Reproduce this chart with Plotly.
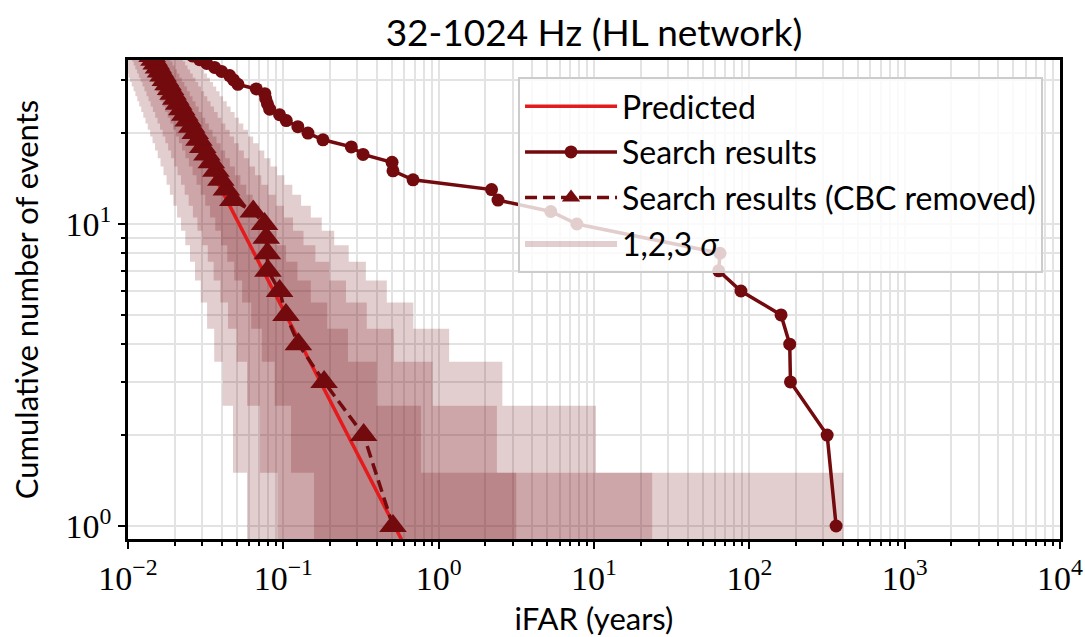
import plotly.graph_objects as go

# ---------------- data ----------------
# predicted cumulative count vs iFAR
pred_ifar = [0.578, 0.52, 0.26, 0.104, 0.052, 0.026, 0.0144]
pred_n = [0.9, 1, 2, 5, 10, 20, 36]

# search results
search_n = [1, 2, 3, 4, 5, 6, 7, 8, 10, 11, 12, 13, 14, 15, 16, 17, 18, 19, 20,
            21, 22, 23, 24, 25, 26, 27, 28, 29, 30, 31, 32, 33, 34, 35, 36]
search_ifar = [362, 317, 184, 182, 160, 88.3, 63.5, 64.7, 7.76, 5.27, 2.41, 2.19,
               0.684, 0.508, 0.501, 0.326, 0.274, 0.180, 0.144, 0.124, 0.1045,
               0.0946, 0.0817, 0.079, 0.077, 0.076, 0.067, 0.051, 0.0478, 0.0451,
               0.040, 0.0361, 0.0321, 0.0289, 0.026]

# search results with CBC events removed
cbc_n = list(range(1, 37))
cbc_ifar = [0.508, 0.329, 0.183, 0.125, 0.104, 0.0946, 0.0796, 0.0790, 0.0776,
            0.0757, 0.0640, 0.0473, 0.0430, 0.0396, 0.0368, 0.0344, 0.0322,
            0.0303, 0.0286, 0.0271, 0.0257, 0.0244, 0.0232, 0.0222, 0.0212,
            0.0203, 0.0195, 0.0188, 0.0181, 0.0174, 0.0168, 0.0162, 0.0157,
            0.0152, 0.0147, 0.0143]

# 1,2,3 sigma bands: for each count level, the iFAR extent
band_n = list(range(1, 36))
lo1 = [0.1576, 0.1121, 0.0880, 0.0727, 0.0621, 0.0543, 0.0483, 0.04355, 0.03968,
       0.03646, 0.03374, 0.03141, 0.02939, 0.02762, 0.02606, 0.02467, 0.02342,
       0.02230, 0.02128, 0.02036, 0.01951, 0.01873, 0.01802, 0.01735, 0.01674,
       0.01617, 0.01564, 0.01514, 0.01467, 0.01423, 0.01382, 0.01343, 0.01307,
       0.01272, 0.01239]
hi1 = [3.156, 0.7698, 0.3972, 0.2606, 0.1915, 0.1503, 0.1232, 0.1041, 0.08992,
       0.07903, 0.07042, 0.06345, 0.05770, 0.05288, 0.04877, 0.04524, 0.04218,
       0.03949, 0.03712, 0.03501, 0.03312, 0.03141, 0.02988, 0.02848, 0.02720,
       0.02603, 0.02496, 0.02396, 0.02305, 0.02219, 0.02140, 0.02066, 0.01997,
       0.01933, 0.01872]
lo2 = [0.0917, 0.0708, 0.0584, 0.0501, 0.0440, 0.0393, 0.0356, 0.03262, 0.03011,
       0.02799, 0.02616, 0.02457, 0.02318, 0.02194, 0.02084, 0.01984, 0.01895,
       0.01813, 0.01739, 0.01671, 0.01608, 0.01550, 0.01496, 0.01446, 0.01399,
       0.01356, 0.01315, 0.01276, 0.01240, 0.01206, 0.01174, 0.01144, 0.01115,
       0.01088, 0.01062]
hi2 = [23.69, 2.370, 0.9137, 0.5152, 0.3444, 0.2532, 0.1977, 0.1608, 0.1348,
       0.1155, 0.1008, 0.08918, 0.07983, 0.07216, 0.06575, 0.06033, 0.05569,
       0.05167, 0.04817, 0.04509, 0.04236, 0.03993, 0.03775, 0.03578, 0.03400,
       0.03238, 0.03090, 0.02955, 0.02830, 0.02715, 0.02609, 0.02510, 0.02418,
       0.02333, 0.02253]
lo3 = [0.0584, 0.0474, 0.0407, 0.0359, 0.0323, 0.0294, 0.0270, 0.02507, 0.02339,
       0.02195, 0.02069, 0.01958, 0.01860, 0.01772, 0.01692, 0.01620, 0.01554,
       0.01494, 0.01439, 0.01388, 0.01340, 0.01296, 0.01255, 0.01217, 0.01181,
       0.01148, 0.01116, 0.01086, 0.01058, 0.01031, 0.01006, 0.00982, 0.00959,
       0.00938, 0.00917]
hi3 = [403.4, 10.30, 2.571, 1.168, 0.6871, 0.4635, 0.3398, 0.2635, 0.2126,
       0.1767, 0.1503, 0.1301, 0.1143, 0.1016, 0.09121, 0.08263, 0.07539,
       0.06922, 0.06392, 0.05932, 0.05527, 0.05172, 0.04857, 0.04574, 0.04321,
       0.04093, 0.03886, 0.03697, 0.03525, 0.03367, 0.03222, 0.03088, 0.02964,
       0.02849, 0.02742]

x_tick_vals = [0.01, 0.1, 1, 10, 100, 1000, 10000]
x_tick_text = ["10<sup>\u22122</sup>", "10<sup>\u22121</sup>", "10<sup>0</sup>",
               "10<sup>1</sup>", "10<sup>2</sup>", "10<sup>3</sup>", "10<sup>4</sup>"]
y_tick_vals = [1, 10]
y_tick_text = ["10<sup>0</sup>", "10<sup>1</sup>"]
x_minor = [k * 10.0 ** e for e in range(-2, 4) for k in range(2, 10)]
y_minor = [2, 3, 4, 5, 6, 7, 8, 9, 20, 30]

# ---------------- style ----------------
DARK = "rgb(115,10,14)"
BAND = "rgba(115,10,14,0.2)"
RED = "#e41a1c"
TXT = "Lato, 'Liberation Sans', sans-serif"
NUM = "'Liberation Serif', serif"
GRID = "#e3e3e3"


def staircase(lo, hi, n):
    xs, ys = [], []
    for a, k in zip(lo, n):
        xs += [a, a]
        ys += [k - 0.5, k + 0.5]
    for b, k in zip(reversed(hi), reversed(n)):
        xs += [b, b]
        ys += [k + 0.5, k - 0.5]
    xs.append(xs[0])
    ys.append(ys[0])
    return xs, ys


fig = go.Figure()

for i, (lo, hi) in enumerate([(lo3, hi3), (lo2, hi2), (lo1, hi1)]):
    bx, by = staircase(lo, hi, band_n)
    fig.add_trace(go.Scatter(
        x=bx, y=by, mode="lines", fill="toself", fillcolor=BAND,
        line=dict(width=0, color=BAND), hoverinfo="skip",
        name="1,2,3 <i>\u03c3</i>", legendgroup="band", legendrank=4,
        showlegend=(i == 0)))

fig.add_trace(go.Scatter(
    x=pred_ifar, y=pred_n, mode="lines", name="Predicted",
    line=dict(color=RED, width=3.5), legendgroup="pred", legendrank=1))

fig.add_trace(go.Scatter(
    x=search_ifar, y=search_n, mode="lines+markers", name="Search results",
    line=dict(color=DARK, width=3.5),
    marker=dict(symbol="circle", size=13, color=DARK),
    legendgroup="search", legendrank=2))

fig.add_trace(go.Scatter(
    x=cbc_ifar, y=cbc_n, mode="lines+markers", name="Search results (CBC removed)",
    line=dict(color=DARK, width=3.5, dash="12px,6px"),
    marker=dict(symbol="triangle-up", size=24, color=DARK),
    legendgroup="cbc", legendrank=3))

axis_common = dict(
    type="log", showline=True, linecolor="black", linewidth=2.5, mirror=True,
    ticks="outside", ticklen=7, tickwidth=2, tickcolor="black",
    showgrid=True, gridcolor=GRID, gridwidth=1.5, zeroline=False,
    automargin=False,
    tickfont=dict(family=NUM, size=34, color="black"),
)

fig.update_xaxes(
    range=[-2, 4], tickmode="array", tickvals=x_tick_vals, ticktext=x_tick_text,
    minor=dict(tickmode="array", tickvals=x_minor, ticks="outside", ticklen=4,
               tickwidth=1.5, tickcolor="black", showgrid=True,
               gridcolor=GRID, gridwidth=1.5),
    title=dict(text="iFAR (years)", font=dict(family=TXT, size=31, color="black"),
               standoff=14),
    **axis_common)

fig.update_yaxes(
    range=[-0.043, 1.543], tickmode="array", tickvals=y_tick_vals, ticktext=y_tick_text,
    minor=dict(tickmode="array", tickvals=y_minor, ticks="outside", ticklen=4,
               tickwidth=1.5, tickcolor="black", showgrid=True,
               gridcolor=GRID, gridwidth=1.5),
    title=dict(text="Cumulative number of events",
               font=dict(family=TXT, size=31, color="black"), standoff=18),
    **axis_common)

fig.update_layout(
    width=1085, height=637,
    margin=dict(l=128, r=25, t=60, b=98),
    paper_bgcolor="white", plot_bgcolor="white",
    title=dict(text="32-1024 Hz (HL network)", x=0.5475, xanchor="center",
               y=1 - 33 / 637, yanchor="middle", yref="container",
               font=dict(family=TXT, size=37, color="black")),
    showlegend=True,
    legend=dict(x=0.9818, xanchor="right", y=0.9645, yanchor="top",
                bgcolor="rgba(255,255,255,0.8)", bordercolor="#cccccc",
                borderwidth=2, font=dict(family=TXT, size=32, color="black"),
                itemwidth=92, traceorder="grouped", tracegroupgap=1,
                itemsizing="trace"),
)

fig.write_html("out.html")
